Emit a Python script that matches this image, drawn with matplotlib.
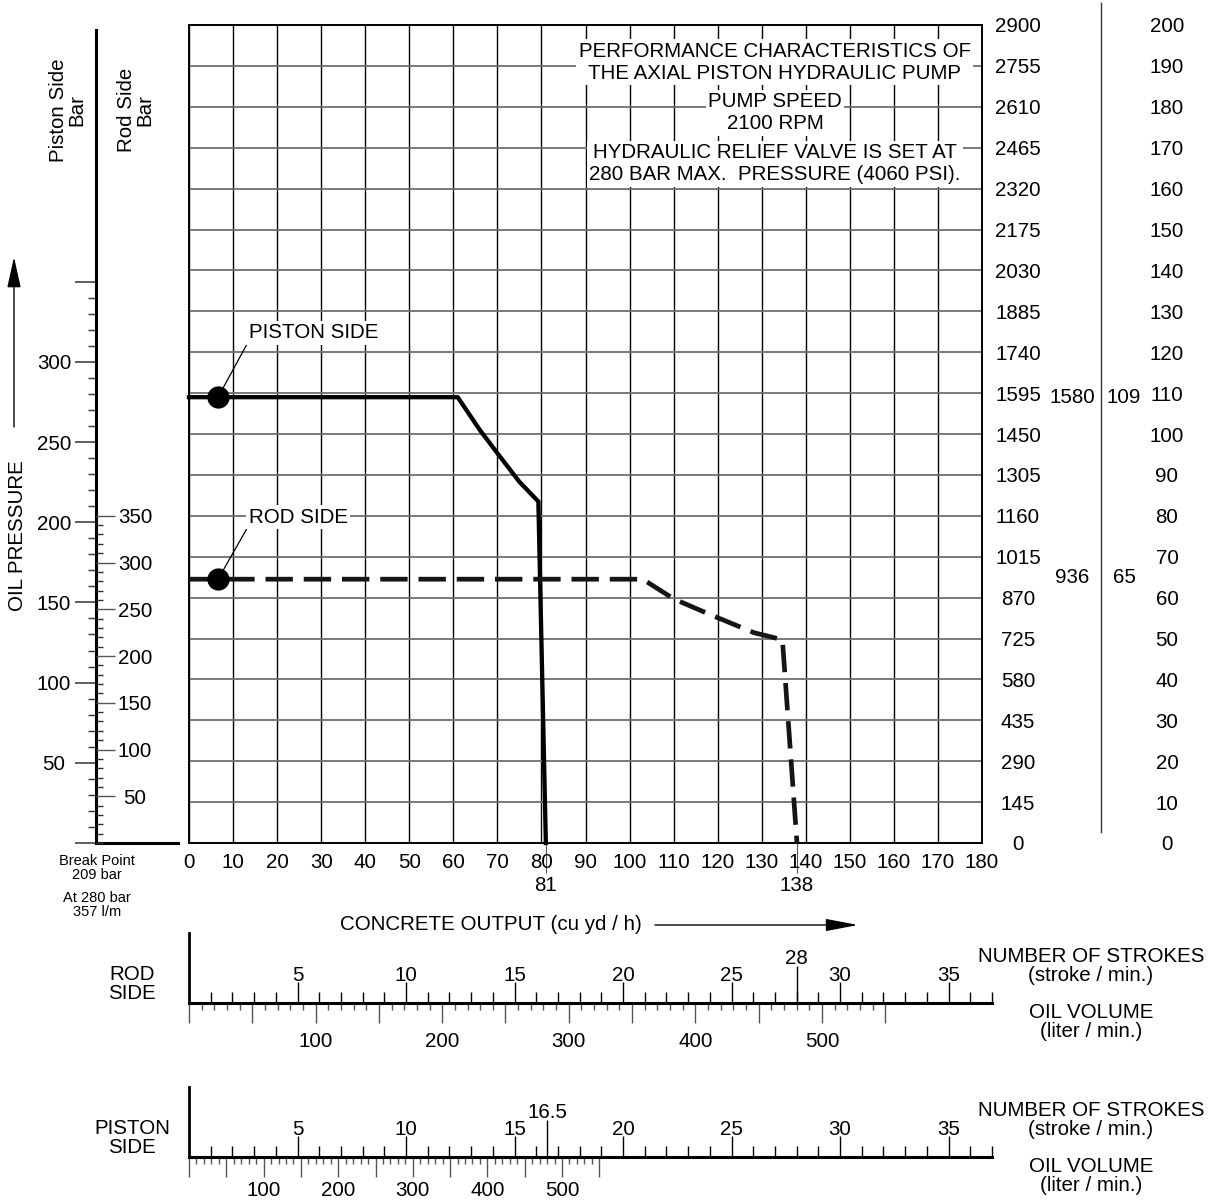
import numpy as np
import matplotlib
matplotlib.use("Agg")
import matplotlib.pyplot as plt
from matplotlib import transforms
from matplotlib.lines import Line2D
from matplotlib.ticker import FixedLocator, FuncFormatter

plt.rcParams["font.family"] = ["Liberation Sans", "DejaVu Sans"]

# ---- data ----
output_ticks = np.arange(0, 181, 10)        # concrete output, cu yd / h
bar_ticks = np.arange(0, 201, 10)           # outer right scale
psi_ticks = np.arange(0, 2901, 145)         # inner right scale

piston_x = [0, 61, 66, 70, 75, 79.3, 81]
piston_y = [109, 109, 101, 95.3, 88.3, 83.5, 0]
rod_x = [0, 103, 110, 118.4, 128.3, 134.7, 138]
rod_y = [64.5, 64.5, 59.7, 55.8, 51.4, 49.7, 0]
dot_x = 6.6
break_outputs = [81, 138]

level_psi = [1580, 936]
level_bar = [109, 65]

piston_axis_top = 510     # piston side bar at top of grid
rod_axis_top = 875        # rod side bar at top of grid
piston_major = np.arange(0, 351, 50)
piston_minor = np.arange(0, 351, 10)
piston_labelled = [50, 100, 150, 200, 250, 300]
rod_major = np.arange(50, 351, 50)
rod_minor = np.arange(0, 351, 10)

strokes_max = 37
stroke_major = np.arange(5, 36, 5)
stroke_minor = np.arange(1, 38, 1)
oil_major = np.arange(0, 551, 50)
oil_minor = np.arange(0, 551, 10)
oil_labelled = [100, 200, 300, 400, 500]
rod_mark_strokes = 28
piston_mark_strokes = 16.5
oil_at_mark = 480          # l/min at the marked stroke rate

FS = 14.8
W, H = 1210, 1202


def fbox(x0, y0, x1, y1):
    # pixel box (top-left origin) -> figure fraction rect
    return [x0 / W, 1 - y1 / H, (x1 - x0) / W, (y1 - y0) / H]


def pt(px):
    return px * 72 / 100


fig = plt.figure(figsize=(W / 100, H / 100), dpi=100)

# ---- main grid ----
ax = fig.add_axes(fbox(189, 25, 982, 843))
ax.set_xlim(0, 180)
ax.set_ylim(0, 200)
ax.set_xticks(output_ticks)
ax.set_yticks(bar_ticks)
ax.set_axisbelow(True)
ax.xaxis.grid(True, color="black", lw=1.0)
ax.yaxis.grid(True, color="#6e6e6e", lw=1.3)
for s in ax.spines.values():
    s.set_linewidth(1.4)

# ---- right hand scales ----
ax_psi = ax.twinx()
ax_psi.set_ylim(0, 2900)
ax_psi.set_yticks(psi_ticks)
ax_psi.tick_params(length=0, pad=pt(36), labelsize=FS)
plt.setp(ax_psi.get_yticklabels(), ha="center")
for s in ax_psi.spines.values():
    s.set_visible(False)

ax_bar = ax.twinx()
ax_bar.set_ylim(0, 200)
ax_bar.set_yticks(bar_ticks)
ax_bar.tick_params(length=0, pad=pt(185), labelsize=FS)
plt.setp(ax_bar.get_yticklabels(), ha="center")
for s in ax_bar.spines.values():
    s.set_visible(False)

# twinx turns the left ticks back on, so set these afterwards
ax.tick_params(axis="x", length=0, pad=7, labelsize=FS)
ax.tick_params(axis="y", left=False, right=False, labelleft=False)

ax.plot(piston_x, piston_y, color="black", lw=3.1, zorder=4, clip_on=False)
ax.plot(rod_x, rod_y, color="#151515", lw=3.4, ls=(0, (5.8, 2.3)), zorder=4,
        clip_on=False)
ax.plot([dot_x, dot_x], [piston_y[0], rod_y[0]], "o", ms=15, color="black",
        zorder=5, clip_on=False)

white = dict(boxstyle="square,pad=0.12", fc="white", ec="none")
ax.annotate("PISTON SIDE", xy=(dot_x, piston_y[0]), xytext=(13.6, 124.7),
            ha="left", va="center", fontsize=FS, bbox=white,
            arrowprops=dict(arrowstyle="-", lw=0.9, color="black",
                            relpos=(0, 0.1), shrinkA=0, shrinkB=0))
ax.annotate("ROD SIDE", xy=(dot_x, rod_y[0]), xytext=(13.6, 79.6),
            ha="left", va="center", fontsize=FS, bbox=white,
            arrowprops=dict(arrowstyle="-", lw=0.9, color="black",
                            relpos=(0, 0.1), shrinkA=0, shrinkB=0))

ax.text(133, 190.9, "PERFORMANCE CHARACTERISTICS OF\nTHE AXIAL PISTON HYDRAULIC PUMP",
        ha="center", va="center", fontsize=FS, linespacing=1.2, bbox=white)
ax.text(133, 178.5, "PUMP SPEED\n2100 RPM",
        ha="center", va="center", fontsize=FS, linespacing=1.2, bbox=white)
ax.text(133, 166.1, "HYDRAULIC RELIEF VALVE IS SET AT\n280 BAR MAX.  PRESSURE (4060 PSI).",
        ha="center", va="center", fontsize=FS, linespacing=1.2, bbox=white)

# break point marks under the x axis
sec = ax.secondary_xaxis("bottom")
sec.set_xticks(break_outputs, labels=[str(v) for v in break_outputs])
sec.tick_params(length=pt(30), width=0.8, color="#555555", pad=2, labelsize=FS)
sec.spines["bottom"].set_visible(False)

trans = transforms.blended_transform_factory(ax.transAxes, ax.transData)
for psi, bar in zip(level_psi, level_bar):
    ax.text(1.1135, bar, str(psi), transform=trans, ha="center", va="center",
            fontsize=FS)
    ax.text(1.179, bar, str(bar), transform=trans, ha="center", va="center",
            fontsize=FS)

fig.add_artist(Line2D([1101 / W, 1101 / W], [1 - 832 / H, 1 - 3 / H],
                      transform=fig.transFigure, color="#333333", lw=1.0))

# ---- left hand pressure scales ----
axp = fig.add_axes(fbox(96, 25, 178, 843))
axp.set_ylim(0, piston_axis_top)
axp.set_xticks([])
axp.patch.set_visible(False)
axp.spines["top"].set_visible(False)
axp.spines["right"].set_visible(False)
axp.spines["left"].set_linewidth(2.2)
axp.spines["bottom"].set_linewidth(2.2)
axp.spines["left"].set_bounds(0, (843 - 32) / 1.6)
axp.yaxis.set_major_locator(FixedLocator(piston_major))
axp.yaxis.set_minor_locator(FixedLocator(piston_minor))
axp.yaxis.set_major_formatter(
    FuncFormatter(lambda v, p: f"{v:.0f}" if v in piston_labelled else ""))
axp.tick_params(axis="y", which="major", length=pt(21), width=1.1,
                color="#333333", pad=pt(21), labelsize=FS)
axp.tick_params(axis="y", which="minor", length=pt(8), width=1.0,
                color="#333333")
plt.setp(axp.get_yticklabels(), ha="center")

axr = axp.twinx()
axr.set_ylim(0, rod_axis_top)
axr.spines["right"].set_position(("axes", 0))
for s in axr.spines.values():
    s.set_visible(False)
axr.yaxis.set_major_locator(FixedLocator(rod_major))
axr.yaxis.set_minor_locator(FixedLocator(rod_minor))
axr.tick_params(axis="y", which="major", length=pt(19), width=1.0,
                color="#555555", pad=pt(20), labelsize=FS)
axr.tick_params(axis="y", which="minor", length=pt(7), width=1.0,
                color="#333333")
plt.setp(axr.get_yticklabels(), ha="center")
axp.tick_params(axis="y", which="both", right=False)

fig.text(68 / W, 1 - 110 / H, "Piston Side\nBar", rotation=90, ha="center",
         va="center", fontsize=FS, linespacing=0.95)
fig.text(136 / W, 1 - 110 / H, "Rod Side\nBar", rotation=90, ha="center",
         va="center", fontsize=FS, linespacing=0.95)
fig.text(18 / W, 1 - 536 / H, "OIL PRESSURE", rotation=90, ha="center",
         va="center", fontsize=FS)
ax.annotate("", xy=(14, H - 257), xytext=(14, H - 427),
            xycoords="figure pixels", textcoords="figure pixels",
            arrowprops=dict(arrowstyle="-|>,head_length=1.9,head_width=0.42",
                            lw=1.0, color="black", shrinkA=0, shrinkB=0))

fig.text(97 / W, 1 - 868 / H, "Break Point\n209 bar", ha="center", va="center",
         fontsize=10.5, linespacing=1.05)
fig.text(97 / W, 1 - 905 / H, "At 280 bar\n357 l/m", ha="center", va="center",
         fontsize=10.5, linespacing=1.05)

fig.text(340 / W, 1 - 925 / H, "CONCRETE OUTPUT (cu yd / h)", ha="left",
         va="center", fontsize=FS)
ax.annotate("", xy=(858, H - 925), xytext=(655, H - 925),
            xycoords="figure pixels", textcoords="figure pixels",
            arrowprops=dict(arrowstyle="-|>,head_length=2.0,head_width=0.38",
                            lw=1.0, color="black", shrinkA=0, shrinkB=0))


# ---- strokes / oil volume scales ----
def stroke_scale(top, line, mark, litres_per_stroke, side, oil_pad):
    a = fig.add_axes(fbox(189, top, 992, line))
    a.set_xlim(0, strokes_max)
    a.set_ylim(0, 1)
    a.patch.set_visible(False)
    a.set_yticks([])
    a.spines["top"].set_visible(False)
    a.spines["right"].set_visible(False)
    a.spines["left"].set_linewidth(2.0)
    a.spines["bottom"].set_linewidth(2.2)
    a.xaxis.set_major_locator(FixedLocator(stroke_major))
    a.xaxis.set_minor_locator(FixedLocator(stroke_minor))
    a.tick_params(axis="x", which="major", direction="in", length=pt(21),
                  width=1.0, pad=-pt(37), labelsize=FS)
    a.tick_params(axis="x", which="minor", direction="in", length=pt(11),
                  width=1.0)

    m = a.secondary_xaxis(0)
    m.set_xticks([mark], labels=[f"{mark:g}"])
    m.tick_params(direction="in", length=pt(37), width=1.0, pad=-pt(54),
                  labelsize=FS)
    m.spines["bottom"].set_visible(False)

    o = a.secondary_xaxis(0, functions=(lambda s: s * litres_per_stroke,
                                        lambda v: v / litres_per_stroke))
    o.xaxis.set_major_locator(FixedLocator(oil_major))
    o.xaxis.set_minor_locator(FixedLocator(oil_minor))
    o.xaxis.set_major_formatter(
        FuncFormatter(lambda v, p: f"{v:.0f}" if round(v) in oil_labelled else ""))
    o.tick_params(axis="x", which="major", direction="out", length=pt(20),
                  width=1.0, color="#555555", pad=pt(oil_pad), labelsize=FS)
    o.tick_params(axis="x", which="minor", direction="out", length=pt(7),
                  width=1.0, color="#555555")
    o.spines["bottom"].set_visible(False)

    fig.text(132 / W, 1 - (line - 19) / H, side, ha="center", va="center",
             fontsize=FS, linespacing=1.0)
    fig.text(1091 / W, 1 - (line - 37) / H, "NUMBER OF STROKES\n(stroke / min.)",
             ha="center", va="center", fontsize=FS, linespacing=1.05)
    fig.text(1091 / W, 1 - (line + 19) / H, "OIL VOLUME\n(liter / min.)",
             ha="center", va="center", fontsize=FS, linespacing=1.05)
    return a


stroke_scale(933, 1003, rod_mark_strokes, oil_at_mark / rod_mark_strokes,
             "ROD\nSIDE", 9)
stroke_scale(1087, 1157, piston_mark_strokes, oil_at_mark / piston_mark_strokes,
             "PISTON\nSIDE", 4)

fig.savefig("out.png", dpi=100)
